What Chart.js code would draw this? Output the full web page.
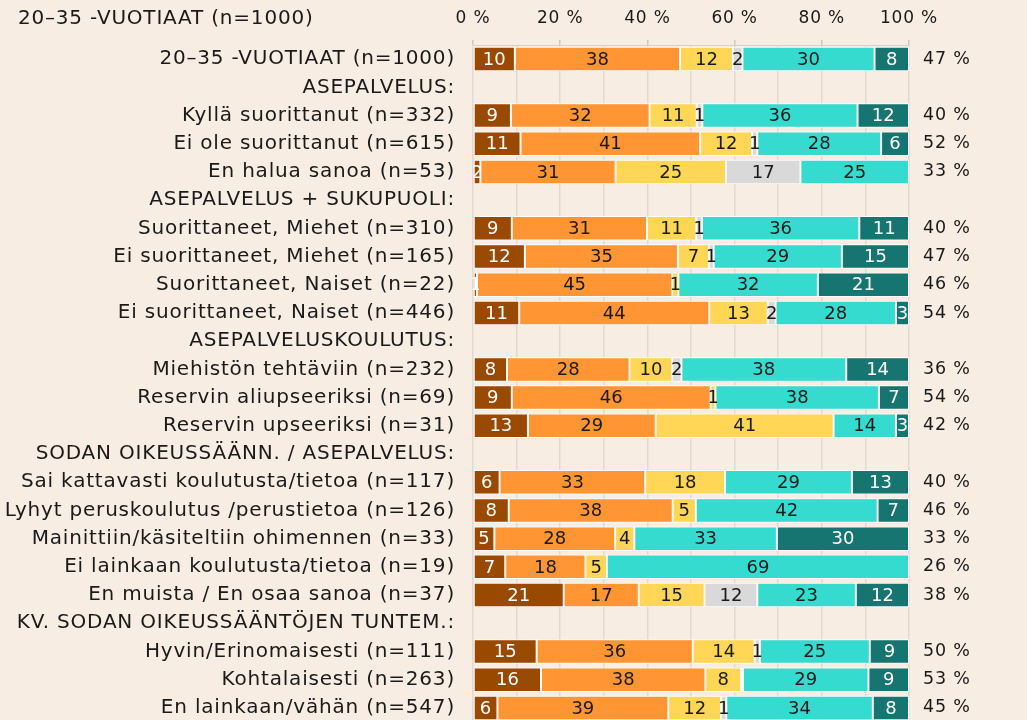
<!DOCTYPE html>
<html>
<head>
<meta charset="utf-8">
<script src="https://cdn.jsdelivr.net/npm/chart.js@4/dist/chart.umd.min.js"></script>
<style>
  html, body { margin: 0; padding: 0; background: #f8ede3; overflow: hidden; }
  canvas { display: block; }
</style>
</head>
<body>
<canvas id="chart" width="1027" height="725"></canvas>
<script>
var headerTitle = '20–35 -VUOTIAAT (n=1000)';

var rowLabels = [
	'20–35 -VUOTIAAT (n=1000)',
	'ASEPALVELUS:',
	'Kyllä suorittanut (n=332)',
	'Ei ole suorittanut (n=615)',
	'En halua sanoa (n=53)',
	'ASEPALVELUS + SUKUPUOLI:',
	'Suorittaneet, Miehet (n=310)',
	'Ei suorittaneet, Miehet (n=165)',
	'Suorittaneet, Naiset (n=22)',
	'Ei suorittaneet, Naiset (n=446)',
	'ASEPALVELUSKOULUTUS:',
	'Miehistön tehtäviin (n=232)',
	'Reservin aliupseeriksi (n=69)',
	'Reservin upseeriksi (n=31)',
	'SODAN OIKEUSSÄÄNN. / ASEPALVELUS:',
	'Sai kattavasti koulutusta/tietoa (n=117)',
	'Lyhyt peruskoulutus /perustietoa (n=126)',
	'Mainittiin/käsiteltiin ohimennen (n=33)',
	'Ei lainkaan koulutusta/tietoa (n=19)',
	'En muista / En osaa sanoa (n=37)',
	'KV. SODAN OIKEUSSÄÄNTÖJEN TUNTEM.:',
	'Hyvin/Erinomaisesti (n=111)',
	'Kohtalaisesti (n=263)',
	'En lainkaan/vähän (n=547)'
];

// one value per row, null = section header / empty segment
var darkBrown = [9.6, null, 8.7, 10.9, 1.7, null, 8.9, 11.9, 0.9, 10.6, null, 7.8, 8.9, 12.6, null, 6.1, 8.2, 4.9, 7.4, 20.8, null, 14.6, 15.6, 5.6];
var orange    = [37.9, null, 31.8, 41.2, 31.0, null, 31.0, 35.1, 44.8, 43.6, null, 28.1, 45.6, 29.3, null, 33.4, 37.6, 27.7, 18.4, 17.2, null, 35.8, 37.7, 39.2];
var yellow    = [12.1, null, 10.8, 11.9, 25.3, null, 11.3, 7.1, 1.4, 13.4, null, 9.8, 1.1, 40.8, null, 18.3, 5.3, 4.4, 4.9, 15.1, null, 14.2, 8.2, 12.1];
var grey      = [2.2, null, 1.3, 1.2, 17.1, null, 1.3, 1.1, null, 1.8, null, 2.1, null, null, null, null, null, null, null, 12.1, null, 1.2, 0.4, 1.2];
var turquoise = [30.3, null, 35.6, 28.4, 24.9, null, 36.1, 29.4, 32.0, 27.6, null, 37.8, 37.5, 14.3, null, 29.1, 41.7, 32.7, 69.3, 22.6, null, 25.2, 28.8, 33.6];
var darkTeal  = [7.9, null, 11.8, 6.4, null, null, 11.4, 15.4, 20.9, 3.0, null, 14.4, 6.9, 3.0, null, 13.1, 7.2, 30.3, null, 12.2, null, 9.0, 9.3, 8.3];

var rightShare = [47, null, 40, 52, 33, null, 40, 47, 46, 54, null, 36, 54, 42, null, 40, 46, 33, 26, 38, null, 50, 53, 45];

var FONT = 'DejaVu Sans';
var SPACING = '0.8px';

var datasets = [
	{ data: darkBrown, backgroundColor: '#9a4a00', textColor: '#ffffff' },
	{ data: orange, backgroundColor: '#ff9633', textColor: '#1a1a1a' },
	{ data: yellow, backgroundColor: '#ffd655', textColor: '#1a1a1a' },
	{ data: grey, backgroundColor: '#d9d9d9', textColor: '#1a1a1a' },
	{ data: turquoise, backgroundColor: '#36dbd0', textColor: '#1a1a1a' },
	{ data: darkTeal, backgroundColor: '#167570', textColor: '#ffffff' }
];
datasets.forEach(function(ds) {
	ds.borderColor = '#ffffff';
	ds.borderWidth = 1;
	ds.borderSkipped = false;
	ds.barPercentage = 0.87;
	ds.categoryPercentage = 1;
});

// wider letter spacing, the original font is a wide geometric one
var spacing = {
	id: 'spacing',
	beforeUpdate: function(chart) { chart.ctx.letterSpacing = SPACING; },
	beforeDraw: function(chart) { chart.ctx.letterSpacing = SPACING; }
};

// numbers inside the segments
var segmentLabels = {
	id: 'segmentLabels',
	afterDatasetsDraw: function(chart) {
		var ctx = chart.ctx;
		ctx.save();
		ctx.letterSpacing = '0px';
		ctx.font = '18px "' + FONT + '"';
		ctx.textAlign = 'center';
		ctx.textBaseline = 'middle';
		chart.data.datasets.forEach(function(ds, i) {
			chart.getDatasetMeta(i).data.forEach(function(bar, j) {
				var v = ds.data[j];
				if (v === null || v < 0.5) return;
				var left = Math.min(bar.x, bar.base);
				var w = Math.abs(bar.x - bar.base);
				ctx.save();
				ctx.beginPath();
				ctx.rect(left - 1, bar.y - bar.height / 2, w + 3, bar.height);
				ctx.clip();
				ctx.fillStyle = ds.textColor;
				ctx.fillText(String(Math.round(v)), left + w / 2, bar.y + 1);
				ctx.restore();
			});
		});
		ctx.restore();
	}
};

var cornerTitle = {
	id: 'cornerTitle',
	afterDraw: function(chart) {
		var ctx = chart.ctx;
		ctx.save();
		ctx.font = '20px "' + FONT + '"';
		ctx.fillStyle = '#1a1a1a';
		ctx.textAlign = 'left';
		ctx.textBaseline = 'middle';
		ctx.fillText(headerTitle, 18, 19);
		ctx.restore();
	}
};

function noVerticalPadding(scale) {
	scale.paddingTop = 0;
	scale.paddingBottom = 0;
}

new Chart(document.getElementById('chart'), {
	type: 'bar',
	data: { labels: rowLabels, datasets: datasets },
	plugins: [spacing, segmentLabels, cornerTitle],
	options: {
		indexAxis: 'y',
		responsive: false,
		animation: false,
		layout: { padding: { top: 0, bottom: 3, left: 0, right: 0 } },
		plugins: { legend: { display: false }, tooltip: { enabled: false } },
		scales: {
			x: {
				position: 'top',
				stacked: true,
				min: 0,
				max: 100,
				ticks: {
					stepSize: 10,
					autoSkip: false,
					maxRotation: 0,
					padding: 11,
					color: '#1a1a1a',
					font: { family: FONT, size: 17 },
					callback: function(value) { return value % 20 === 0 ? value + ' %' : ''; }
				},
				grid: {
					color: '#e2dad2',
					lineWidth: 1.5,
					tickLength: 5,
					tickColor: function(c) { return c.tick && c.tick.value % 20 === 0 ? '#d0c8c0' : 'rgba(0,0,0,0)'; }
				},
				border: { display: true, color: '#d8d0c8' },
				afterFit: function(scale) { scale.height = 45; }
			},
			y: {
				stacked: true,
				grid: { display: false, drawTicks: false },
				border: { display: false },
				ticks: {
					padding: 18,
					color: '#1a1a1a',
					autoSkip: false,
					font: { family: FONT, size: 20 }
				},
				afterFit: function(scale) { scale.width = 473; noVerticalPadding(scale); }
			},
			y2: {
				type: 'category',
				position: 'right',
				offset: true,
				labels: rightShare.map(function(v) { return v === null ? '' : v + ' %'; }),
				grid: { display: false, drawTicks: false },
				border: { display: false },
				ticks: {
					padding: 14,
					crossAlign: 'near',
					color: '#1a1a1a',
					autoSkip: false,
					font: { family: FONT, size: 17.5 }
				},
				afterFit: function(scale) { scale.width = 1027 - 909; noVerticalPadding(scale); }
			}
		}
	}
});
</script>
</body>
</html>
